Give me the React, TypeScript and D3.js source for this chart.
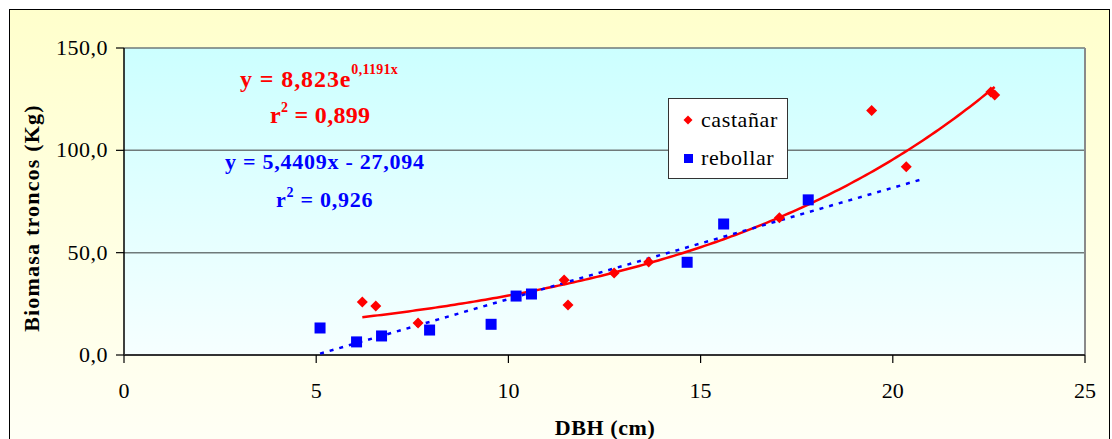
import * as d3 from "d3";

// DBH (cm) / biomass (kg)
const castanarX = [6.2, 6.55, 7.65, 11.45, 11.55, 12.75, 13.65, 17.05, 19.45, 20.35, 22.55, 22.65];
const castanarY = [25.9, 23.9, 15.6, 36.7, 24.4, 40.1, 45.5, 67.0, 119.5, 92.0, 128.5, 127.0];
const rebollarX = [5.1, 6.05, 6.7, 7.95, 9.55, 10.2, 10.6, 14.65, 15.6, 17.8];
const rebollarY = [13.2, 6.4, 9.3, 12.2, 15.0, 28.8, 29.8, 45.3, 64.0, 75.8];

// trendline coefficients as printed on the chart
const expA = 8.823;
const expB = 0.1191;
const linM = 5.4409;
const linC = -27.094;
const linForward = 3;

const xTicks = [0, 5, 10, 15, 20, 25];
const yTicks = [0, 50, 100, 150];
const seriesNames = ["castañar", "rebollar"];

const W = 1112;
const H = 439;
const left = 124;
const right = 1085;
const top = 48;
const bottom = 355;
const serif = "Liberation Serif, DejaVu Serif, serif";

export default function App() {
  const x = d3.scaleLinear([0, 25], [left, right]);
  const y = d3.scaleLinear([0, 150], [bottom, top]);
  const fmtY = (v: number) => v.toFixed(1).replace(".", ",");

  const expLine = d3
    .line<number>()
    .x((d) => x(d))
    .y((d) => y(expA * Math.exp(expB * d)));
  const linLine = d3
    .line<number>()
    .x((d) => x(d))
    .y((d) => y(linM * d + linC));

  const [cx0, cx1] = d3.extent(castanarX) as [number, number];
  const [rx0, rx1] = d3.extent(rebollarX) as [number, number];
  const expXs = d3.range(cx0, cx1, 0.1).concat([cx1]);
  const linXs = [rx0, rx1 + linForward];

  const diamond = (cx: number, cy: number, r: number) =>
    `M${cx},${cy - r}L${cx + r},${cy}L${cx},${cy + r}L${cx - r},${cy}Z`;

  return (
    <svg
      width={W}
      height={H}
      style={{ position: "absolute", left: 0, top: 0 }}
    >
      <defs>
        <linearGradient id="outerBg" x1="0" y1="0" x2="0" y2="1">
          <stop offset="0" stopColor="#ffffcc" />
          <stop offset="1" stopColor="#fffff6" />
        </linearGradient>
        <linearGradient id="plotBg" x1="0" y1="0" x2="0" y2="1">
          <stop offset="0" stopColor="#ccffff" />
          <stop offset="1" stopColor="#f6ffff" />
        </linearGradient>
      </defs>

      <g fontFamily={serif}>
        <rect x={9.5} y={9.5} width={1100} height={440} fill="url(#outerBg)" stroke="#000" />
        <rect x={left} y={top} width={right - left} height={bottom - top} fill="url(#plotBg)" />

        {/* gridlines */}
        {yTicks.filter((t) => t > 0).map((t) => (
          <line key={t} x1={left} x2={right} y1={y(t)} y2={y(t)} stroke="#6f7a7a" strokeWidth={1.5} />
        ))}
        <line x1={right} x2={right} y1={top} y2={bottom} stroke="#8a8a8a" strokeWidth={2} />

        {/* axes */}
        <line x1={left} x2={left} y1={top} y2={bottom} stroke="#000" strokeWidth={1.5} />
        <line x1={left} x2={right} y1={bottom} y2={bottom} stroke="#333" strokeWidth={2} />
        {yTicks.map((t) => (
          <g key={t}>
            <line x1={left - 8} x2={left} y1={y(t)} y2={y(t)} stroke="#000" strokeWidth={1.2} />
            <text x={108} y={y(t) + 7} textAnchor="end" fontSize={22} letterSpacing={0.5}>
              {fmtY(t)}
            </text>
          </g>
        ))}
        {xTicks.map((t) => (
          <g key={t}>
            <line x1={x(t)} x2={x(t)} y1={bottom} y2={bottom + 8} stroke="#000" strokeWidth={1.2} />
            <text x={x(t)} y={398} textAnchor="middle" fontSize={22}>
              {t}
            </text>
          </g>
        ))}

        <text
          transform={`translate(39,218) rotate(-90)`}
          textAnchor="middle"
          fontSize={22}
          fontWeight="bold"
          letterSpacing={1.2}
        >
          Biomasa troncos (Kg)
        </text>
        <text x={605} y={435} textAnchor="middle" fontSize={22} fontWeight="bold" letterSpacing={0.6}>
          DBH (cm)
        </text>

        {/* trendlines */}
        <path d={expLine(expXs) ?? ""} fill="none" stroke="#ff0000" strokeWidth={2.5} />
        <path
          d={linLine(linXs) ?? ""}
          fill="none"
          stroke="#0000ff"
          strokeWidth={2.5}
          strokeDasharray="4 6"
        />

        {/* points */}
        {rebollarX.map((v, i) => (
          <rect key={i} x={x(v) - 5.5} y={y(rebollarY[i]) - 5.5} width={11} height={11} fill="#0000ff" />
        ))}
        {castanarX.map((v, i) => (
          <path key={i} d={diamond(x(v), y(castanarY[i]), 5.5)} fill="#ff0000" />
        ))}

        {/* equations */}
        <g fill="#ff0000" fontWeight="bold">
          <text x={240} y={87} fontSize={24} letterSpacing={0.9}>
            y = 8,823e
            <tspan dy={-13} fontSize={14} letterSpacing={0.3}>0,1191x</tspan>
          </text>
          <text x={270} y={123} fontSize={24} letterSpacing={0.3}>
            r<tspan dy={-11} fontSize={14}>2</tspan>
            <tspan dy={11}> = 0,899</tspan>
          </text>
        </g>
        <g fill="#0000ff" fontWeight="bold">
          <text x={225} y={169} fontSize={22} letterSpacing={0.75}>
            y = 5,4409x - 27,094
          </text>
          <text x={276} y={207} fontSize={22} letterSpacing={0.75}>
            r<tspan dy={-10} fontSize={14}>2</tspan>
            <tspan dy={10}> = 0,926</tspan>
          </text>
        </g>

        {/* legend */}
        <rect x={668.5} y={98.5} width={119} height={80} fill="#fff" stroke="#333" />
        <path d={diamond(688, 120, 4.5)} fill="#ff0000" />
        <rect x={684} y={154} width={9} height={9} fill="#0000ff" />
        <text x={701} y={127} fontSize={22} letterSpacing={0.6}>{seriesNames[0]}</text>
        <text x={701} y={165} fontSize={22} letterSpacing={0.6}>{seriesNames[1]}</text>
      </g>
    </svg>
  );
}
